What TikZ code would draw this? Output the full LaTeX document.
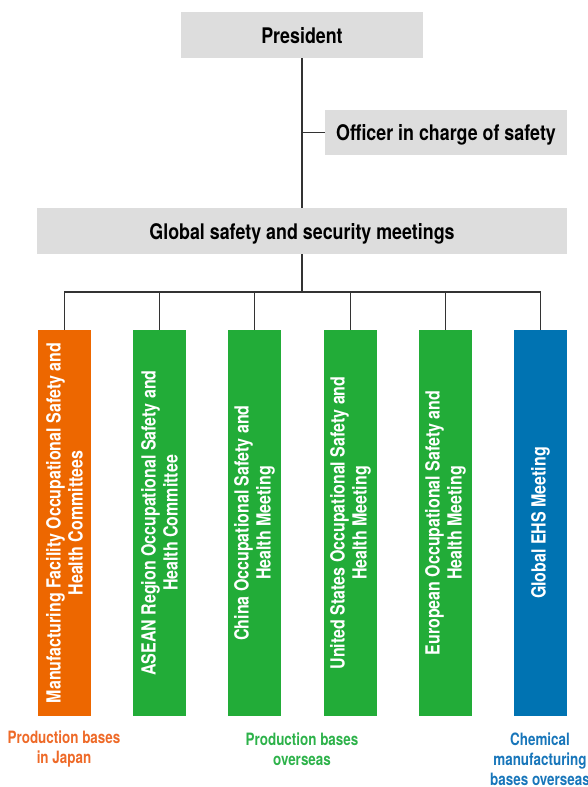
\documentclass[tikz,border=0pt]{standalone}
\usepackage{fontspec}
\newfontfamily\condfont{TeX Gyre Heros}[FakeStretch=0.83]
\newfontfamily\colfont{TeX Gyre Heros}[FakeStretch=0.82]
\newfontfamily\labfont{TeX Gyre Heros}[FakeStretch=0.79]
\definecolor{boxgray}{RGB}{221,221,221}
\definecolor{orgc}{RGB}{237,103,0}
\definecolor{grnc}{RGB}{34,172,56}
\definecolor{bluc}{RGB}{0,115,178}
\definecolor{orgt}{RGB}{238,106,40}
\definecolor{grnt}{RGB}{45,178,74}
\definecolor{blut}{RGB}{24,118,186}
\tikzset{
  graybox/.style={fill=boxgray, draw=none, inner sep=0pt, text depth=0pt, font=\condfont\bfseries\fontsize{21.5}{24}\selectfont},
  colbox/.style={draw=none, inner sep=0pt, minimum width=53pt, minimum height=386pt},
  coltext/.style={rotate=90, text=white, align=center, inner sep=0pt, font=\colfont\bfseries\fontsize{19.5}{22}\selectfont},
  bottomlab/.style={align=center, inner sep=0pt, font=\labfont\bfseries\fontsize{17}{20}\selectfont},
  conn/.style={draw=black!80, line width=1.1pt}
}
\begin{document}
\begin{tikzpicture}[x=1pt,y=-1pt]
\useasboundingbox (0,0) rectangle (588,787);
\node[graybox, minimum width=242pt, minimum height=46pt] (pres) at (302,35) {President};
\node[graybox, minimum width=242pt, minimum height=45pt] (off) at (446,132.5) {Officer in charge of safety};
\node[graybox, minimum width=530pt, minimum height=46pt] (glob) at (302,231) {Global safety and security meetings};
\coordinate (bus) at (302,292);

\node[colbox, fill=orgc] (c1) at (64.5,523) {};
\node[colbox, fill=grnc] (c2) at (159.5,523) {};
\node[colbox, fill=grnc] (c3) at (254.5,523) {};
\node[colbox, fill=grnc] (c4) at (350.5,523) {};
\node[colbox, fill=grnc] (c5) at (445.5,523) {};
\node[colbox, fill=bluc] (c6) at (540.5,523) {};

\node[coltext] (t1) at (c1.center) {Manufacturing Facility Occupational Safety and\\Health Committees};
\node[coltext] (t2) at (c2.center) {ASEAN Region Occupational Safety and\\Health Committee};
\node[coltext] (t3) at (c3.center) {China Occupational Safety and\\Health Meeting};
\node[coltext] (t4) at (c4.center) {United States Occupational Safety and\\Health Meeting};
\node[coltext] (t5) at (c5.center) {European Occupational Safety and\\Health Meeting};
\node[coltext] (t6) at (c6.center) {Global EHS Meeting};

\draw[conn] (pres.south) -- (glob.north);
\draw[conn] (pres.south |- off.west) -- (off.west);
\draw[conn] (glob.south) -- (bus);
\draw[conn] (c1.north) -- (c1.north |- bus) -- (c6.north |- bus) -- (c6.north);
\foreach \i in {2,3,4,5} { \draw[conn] (c\i.north) -- (c\i.north |- bus); }

\node[bottomlab, text=orgt] (l1) at (64,749) {Production bases\\in Japan};
\node[bottomlab, text=grnt] (l2) at (302,749) {Production bases\\overseas};
\node[bottomlab, text=blut] (l3) at (540,759) {Chemical\\manufacturing\\bases overseas};
\end{tikzpicture}
\end{document}
